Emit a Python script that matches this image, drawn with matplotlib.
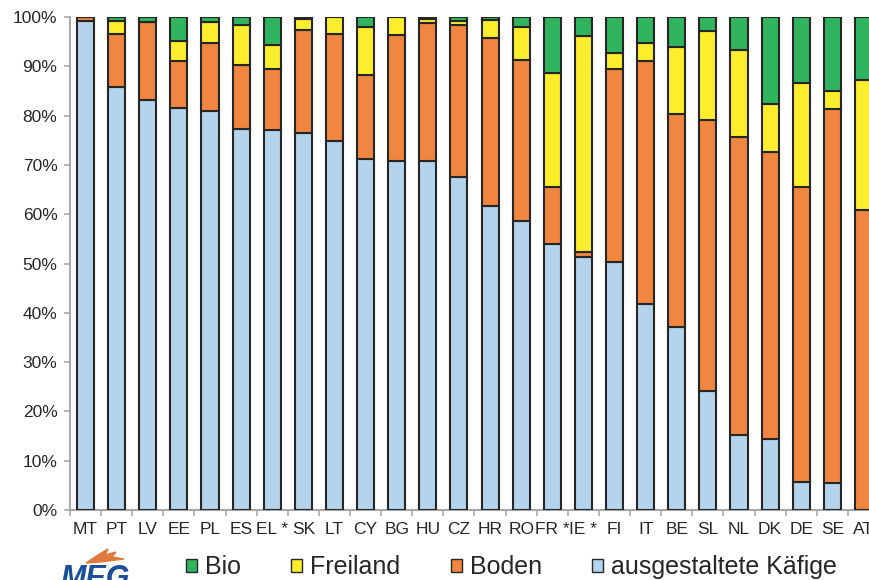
import numpy as np
import matplotlib
matplotlib.use('Agg')
import matplotlib.pyplot as plt
from matplotlib.patches import Patch, Polygon
from matplotlib.ticker import FuncFormatter

plt.rcParams['font.family'] = ['Liberation Sans', 'DejaVu Sans']

# Länder (Beschriftung wie im Original)
laender = ['MT', 'PT', 'LV', 'EE', 'PL', 'ES', 'EL *', 'SK', 'LT', 'CY', 'BG', 'HU', 'CZ',
           'HR', 'RO', 'FR *', 'IE *', 'FI', 'IT', 'BE', 'SL', 'NL', 'DK', 'DE', 'SE', 'AT']

# Anteile in %
kaefige = [99.2, 85.9, 83.1, 81.6, 81.0, 77.4, 77.2, 76.5, 74.9, 71.2, 70.9, 70.8, 67.5,
           61.7, 58.6, 53.9, 51.4, 50.3, 41.9, 37.2, 24.2, 15.2, 14.5, 5.6, 5.5, 0.0]
boden = [0.8, 10.7, 15.9, 9.6, 13.7, 13.0, 12.2, 20.9, 21.6, 17.1, 25.4, 28.0, 30.9,
         34.1, 32.8, 11.7, 1.0, 39.2, 49.3, 43.1, 54.9, 60.5, 58.2, 59.9, 75.9, 60.9]
freiland = [0.0, 2.6, 0.0, 4.0, 4.3, 8.0, 5.0, 2.2, 3.5, 9.7, 3.7, 0.9, 0.8,
            3.7, 6.7, 23.0, 43.7, 3.2, 3.6, 13.6, 18.0, 17.6, 9.7, 21.2, 3.7, 26.4]
bio = [0.0, 0.8, 1.0, 4.8, 1.0, 1.6, 5.6, 0.4, 0.0, 2.0, 0.0, 0.3, 0.8,
       0.5, 1.9, 11.4, 3.9, 7.3, 5.2, 6.1, 2.9, 6.7, 17.6, 13.3, 14.9, 12.7]

c_kaefig = '#B4D3EC'
c_boden = '#F0863F'
c_frei = '#FCEE2C'
c_bio = '#30B55E'
kante = '#262626'

fig = plt.figure(figsize=(8.7, 5.8), dpi=100)
ax = fig.add_axes([70 / 870, 70 / 580, 809 / 870, 492.8 / 580])

x = np.arange(len(laender))
b = 0.55
k = np.array(kaefige)
bo = np.array(boden)
fr = np.array(freiland)
ax.bar(x, k, b, color=c_kaefig, edgecolor=kante, linewidth=1.5, zorder=3)
ax.bar(x, bo, b, bottom=k, color=c_boden, edgecolor=kante, linewidth=1.5, zorder=3)
ax.bar(x, fr, b, bottom=k + bo, color=c_frei, edgecolor=kante, linewidth=1.5, zorder=3)
ax.bar(x, bio, b, bottom=k + bo + fr, color=c_bio, edgecolor=kante, linewidth=1.5, zorder=3)

ax.set_xlim(-0.5, len(laender) - 0.5)
ax.set_ylim(0, 100)
ax.set_yticks(np.arange(0, 101, 10))
ax.yaxis.set_major_formatter(FuncFormatter(lambda v, p: f'{v:.0f}%'))
ax.set_xticks(x)
ax.set_xticklabels(laender)
ax.set_xticks(np.arange(-0.5, len(laender), 1), minor=True)

grau = '#A8A8A8'
for s in ['top', 'right']:
    ax.spines[s].set_visible(False)
for s in ['left', 'bottom']:
    ax.spines[s].set_color(grau)
    ax.spines[s].set_linewidth(1.5)

ax.tick_params(axis='x', which='major', length=0, pad=9, labelsize=12.5, labelcolor='#262626')
ax.tick_params(axis='x', which='minor', length=4, color=grau, width=1.2)
ax.tick_params(axis='y', length=4, color=grau, width=1.2, pad=5, labelsize=12.5, labelcolor='#262626')

# Legende
handles = [Patch(facecolor=c_bio, edgecolor=kante),
           Patch(facecolor=c_frei, edgecolor=kante),
           Patch(facecolor=c_boden, edgecolor=kante),
           Patch(facecolor=c_kaefig, edgecolor=kante)]
fig.legend(handles, ['Bio', 'Freiland', 'Boden', 'ausgestaltete Käfige'],
           loc='center', bbox_to_anchor=(0.588, 0.022), ncol=4, frameon=False,
           fontsize=18, handlelength=0.45, handleheight=0.45, handletextpad=0.32,
           columnspacing=2.0, labelcolor='#262626', borderaxespad=0, borderpad=0)

# MEG Logo (vereinfacht)
fig.text(60 / 870, 1 - 564 / 580, 'MEG', color='#1B4F9C', fontsize=22,
         fontweight='bold', fontstyle='italic', va='top', ha='left')
flamme = Polygon([(86 / 870, 1 - 563 / 580), (98 / 870, 1 - 555 / 580), (108 / 870, 1 - 549 / 580),
                  (105 / 870, 1 - 555 / 580), (116 / 870, 1 - 552 / 580), (112 / 870, 1 - 557 / 580),
                  (124 / 870, 1 - 559 / 580), (100 / 870, 1 - 562 / 580)],
                 closed=True, transform=fig.transFigure, color='#E07A3A')
fig.patches.append(flamme)

fig.savefig('out.png', dpi=100)
